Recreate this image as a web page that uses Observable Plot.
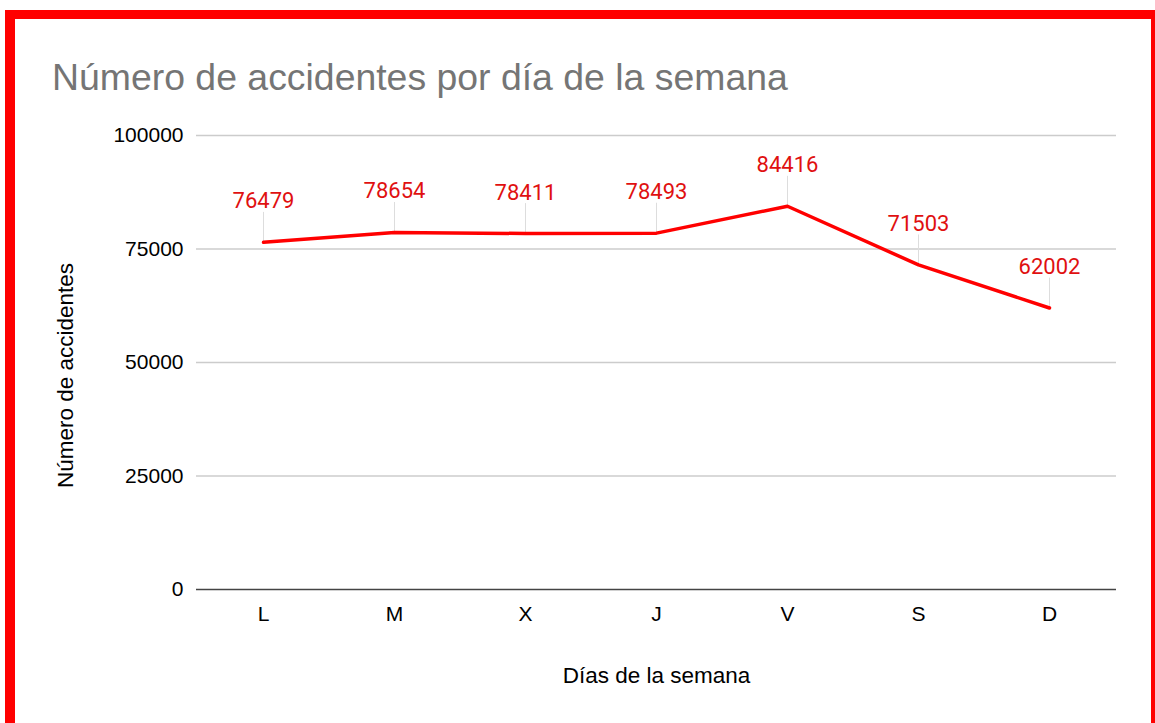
<!DOCTYPE html>
<html>
<head>
<meta charset="utf-8">
<script src="https://cdn.jsdelivr.net/npm/d3@7"></script>
<script src="https://cdn.jsdelivr.net/npm/@observablehq/plot@0.6"></script>
<style>
  html, body { margin: 0; padding: 0; background: #fff; }
  body { width: 1155px; height: 723px; position: relative; overflow: hidden; }
  #frame { position: absolute; left: 5px; top: 10px; width: 1150px; height: 713px; box-sizing: border-box;
           border-left: 10px solid #ff0000; border-top: 9px solid #ff0000; border-right: 4px solid #ff0000; pointer-events: none; z-index: 2; }
  #title { position: absolute; left: 52px; top: 59px; font-family: "Liberation Sans", Arial, sans-serif; font-size: 37.4px;
           line-height: 37px; color: #757575; white-space: nowrap; z-index: 1; }
  #chart { position: absolute; left: 0; top: 0; }
</style>
</head>
<body>
<div id="frame"></div>
<div id="title">Número de accidentes por día de la semana</div>
<div id="chart"></div>
<script>
const days = ["L", "M", "X", "J", "V", "S", "D"];
const accidents = [76479, 78654, 78411, 78493, 84416, 71503, 62002];
const yTicks = [0, 25000, 50000, 75000, 100000];
const xLabel = "Días de la semana";
const yLabel = "Número de accidentes";

const data = days.map((d, i) => ({day: d, value: accidents[i]}));

const leader = {
  draw(context, l) { context.moveTo(0, 0); context.lineTo(0, -l); }
};

const chart = Plot.plot({
  width: 1155,
  height: 723,
  marginLeft: 196,
  marginRight: 39,
  marginTop: 135,
  marginBottom: 134,
  style: {fontFamily: "'Liberation Sans', Arial, sans-serif", fontSize: "21px", color: "#000", background: "transparent"},
  x: {type: "point", domain: days, padding: 0.5, label: null},
  y: {domain: [0, 100000], label: null},
  marks: [
    Plot.gridY(yTicks.filter(t => t > 0), {stroke: "#cccccc", strokeOpacity: 1, strokeWidth: 1.5}),
    Plot.ruleY([0], {stroke: "#444", strokeWidth: 1.5}),
    Plot.axisY({ticks: yTicks, tickSize: 0, tickPadding: 13, tickFormat: d => String(d), fontSize: 21, label: null}),
    Plot.axisX({tickSize: 0, tickPadding: 17, fontSize: 21, label: null}),
    Plot.text([yLabel], {frameAnchor: "left", textAnchor: "middle", dx: -131, dy: 13, rotate: -90, fontSize: 22.5, fill: "#000"}),
    Plot.text([xLabel], {frameAnchor: "bottom", textAnchor: "middle", dy: 93, fontSize: 22.5, fill: "#000"}),
    Plot.vector(data, {x: "day", y: "value", length: 30, rotate: 0, anchor: "start", shape: leader,
      stroke: "#dddddd", strokeWidth: 1}),
    Plot.line(data, {x: "day", y: "value", stroke: "#ff0000", strokeWidth: 3.5}),
    Plot.text(data, {x: "day", y: "value", text: d => String(d.value), dy: -41, fill: "#e01010",
      fontFamily: "Roboto, sans-serif", fontSize: 22})
  ]
});
document.getElementById("chart").appendChild(chart);
</script>
</body>
</html>
